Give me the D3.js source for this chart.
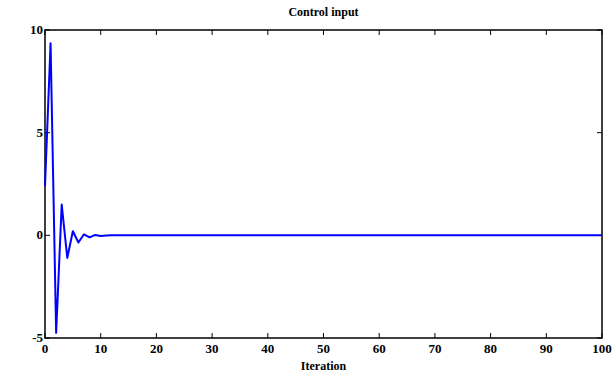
<!DOCTYPE html>
<html>
<head>
<meta charset="utf-8">
<script src="https://cdn.jsdelivr.net/npm/d3@7"></script>
<style>
  body { margin: 0; background: #fff; }
</style>
</head>
<body>
<svg id="chart" width="613" height="375"></svg>
<script>
// control input per iteration (settles to 0 after ~12)
const iterations = d3.range(0, 101);
const controlHead = [2.4, 9.35, -4.75, 1.5, -1.1, 0.2, -0.35, 0.05, -0.1, 0.02, -0.03, -0.01, 0.0];
const controlInput = iterations.map(i => i < controlHead.length ? controlHead[i] : 0);
const xTicks = [0, 10, 20, 30, 40, 50, 60, 70, 80, 90, 100];
const yTicks = [-5, 0, 5, 10];

const margin = { top: 30, right: 11, bottom: 37, left: 45 };
const width = 613 - margin.left - margin.right;
const height = 375 - margin.top - margin.bottom;
const font = "'Liberation Serif', 'Times New Roman', Times, serif";

const svg = d3.select('#chart')
  .attr('font-family', font)
  .attr('font-weight', 'bold');
const g = svg.append('g').attr('transform', `translate(${margin.left},${margin.top})`);

const x = d3.scaleLinear().domain([0, 100]).range([0, width]);
const y = d3.scaleLinear().domain([-5, 10]).range([height, 0]);

// frame
g.append('rect')
  .attr('width', width).attr('height', height)
  .attr('fill', 'none').attr('stroke', '#000').attr('stroke-width', 1.5);

// inward ticks on all four sides
const tickLen = 5;
g.selectAll('.xt').data(xTicks).enter().append('line')
  .attr('x1', d => x(d)).attr('x2', d => x(d))
  .attr('y1', height).attr('y2', height - tickLen)
  .attr('stroke', '#000');
g.selectAll('.xt2').data(xTicks).enter().append('line')
  .attr('x1', d => x(d)).attr('x2', d => x(d))
  .attr('y1', 0).attr('y2', tickLen)
  .attr('stroke', '#000');
g.selectAll('.yt').data(yTicks).enter().append('line')
  .attr('x1', 0).attr('x2', tickLen)
  .attr('y1', d => y(d)).attr('y2', d => y(d))
  .attr('stroke', '#000');
g.selectAll('.yt2').data(yTicks).enter().append('line')
  .attr('x1', width).attr('x2', width - tickLen)
  .attr('y1', d => y(d)).attr('y2', d => y(d))
  .attr('stroke', '#000');

// tick labels
g.selectAll('.xl').data(xTicks).enter().append('text')
  .attr('x', d => x(d)).attr('y', height + 15)
  .attr('text-anchor', 'middle').attr('font-size', 13)
  .text(d => d);
g.selectAll('.yl').data(yTicks).enter().append('text')
  .attr('x', -2).attr('y', d => y(d) + 4)
  .attr('text-anchor', 'end').attr('font-size', 13)
  .text(d => d);

// line
const line = d3.line()
  .x((d, i) => x(iterations[i]))
  .y(d => y(d));

g.append('path')
  .datum(controlInput)
  .attr('fill', 'none')
  .attr('stroke', '#0000ff')
  .attr('stroke-width', 2)
  .attr('stroke-linejoin', 'round')
  .attr('d', line);

// title and axis label
svg.append('text')
  .attr('x', margin.left + width / 2).attr('y', 16)
  .attr('text-anchor', 'middle').attr('font-size', 12)
  .text('Control input');
svg.append('text')
  .attr('x', margin.left + width / 2).attr('y', 370)
  .attr('text-anchor', 'middle').attr('font-size', 12)
  .text('Iteration');
</script>
</body>
</html>
